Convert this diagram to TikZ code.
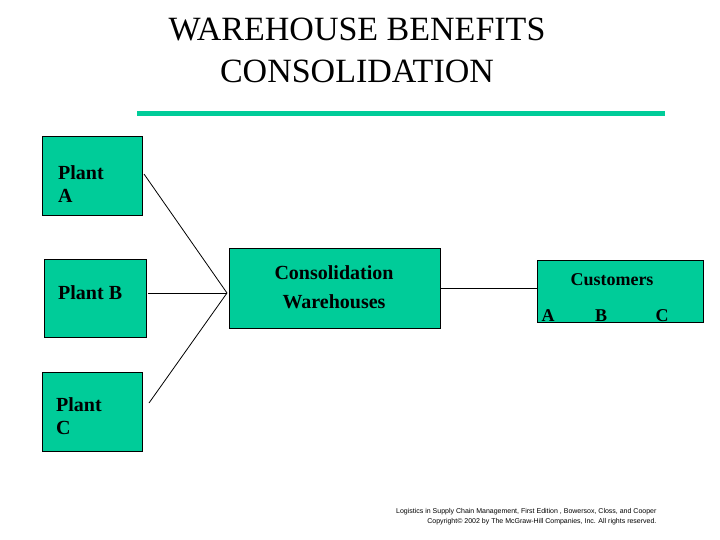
\documentclass[tikz,border=0pt]{standalone}
\usepackage{fontspec}
\setmainfont{Liberation Serif}
\newfontfamily\footfont{Liberation Sans}
\definecolor{boxgreen}{HTML}{00CC99}
\begin{document}
\begin{tikzpicture}[x=1pt,y=-1pt,
  gbox/.style={draw=black,fill=boxgreen,line width=0.8pt},
  lbl/.style={font=\bfseries\fontsize{20}{23}\selectfont,align=left,anchor=north west,inner sep=0pt},
  conn/.style={line width=0.8pt}]
\useasboundingbox (0,0) rectangle (720,540);
\node[font=\fontsize{34}{42}\selectfont,align=center] (title) at (357,50) {WAREHOUSE BENEFITS\\CONSOLIDATION};
\fill[boxgreen] (137,111) rectangle (665,116);
\draw[gbox] (42,136) rectangle (142,215);
\draw[gbox] (44,259) rectangle (146,337);
\draw[gbox] (42,372) rectangle (142,451);
\draw[gbox] (229,248) rectangle (440,328);
\draw[gbox] (537,260) rectangle (703,322);
\node[lbl] (pa) at (58,165) {Plant\\A};
\node[lbl] (pb) at (58,285) {Plant B};
\node[lbl] (pc) at (56,397) {Plant\\C};
\node[font=\bfseries\fontsize{20}{29}\selectfont,align=center] (cw) at (334,287) {Consolidation\\Warehouses};
\node[font=\bfseries\fontsize{18}{20}\selectfont] (cu) at (612,280) {Customers};
\node[font=\bfseries\fontsize{18}{20}\selectfont] (ca) at (548,316) {A};
\node[font=\bfseries\fontsize{18}{20}\selectfont] (cb) at (601,316) {B};
\node[font=\bfseries\fontsize{18}{20}\selectfont] (cc) at (662,316) {C};
\coordinate (ja) at (144,174);
\coordinate (jb) at (148,293);
\coordinate (jc) at (149,403);
\coordinate (hub) at (227,293);
\coordinate (wo) at (441,288);
\coordinate (ci) at (537,288);
\draw[conn] (ja) -- (hub);
\draw[conn] (jb) -- (hub);
\draw[conn] (jc) -- (hub);
\draw[conn] (wo) -- (ci);
\node[font=\footfont\fontsize{7}{10}\selectfont,align=right,anchor=north east] (ft) at (660,505) {Logistics in Supply Chain Management, First Edition , Bowersox, Closs, and Cooper\\Copyright\textcopyright{} 2002 by The McGraw-Hill Companies, Inc. All rights reserved.};
\end{tikzpicture}
\end{document}
